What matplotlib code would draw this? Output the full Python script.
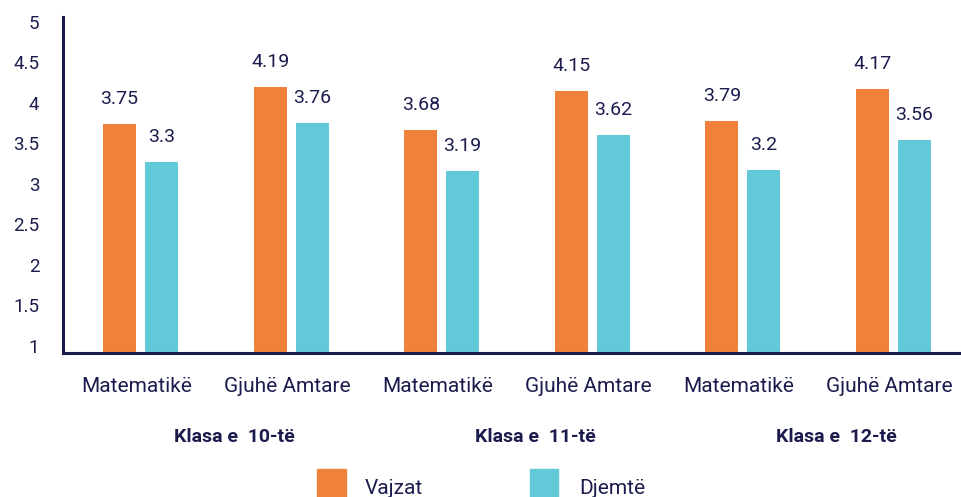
import matplotlib
matplotlib.use('Agg')
import matplotlib.pyplot as plt
import matplotlib.transforms as mtransforms
from matplotlib.patches import Rectangle
import numpy as np

plt.rcParams['font.family'] = ['Roboto', 'DejaVu Sans']

subjects = ['Matematikë', 'Gjuhë Amtare', 'Matematikë', 'Gjuhë Amtare', 'Matematikë', 'Gjuhë Amtare']
grades = ['Klasa e  10-të', 'Klasa e  11-të', 'Klasa e  12-të']
vajzat = [3.75, 4.19, 3.68, 4.15, 3.79, 4.17]
djemte = [3.3, 3.76, 3.19, 3.62, 3.2, 3.56]
yticks = [1, 1.5, 2, 2.5, 3, 3.5, 4, 4.5, 5]
series_names = ['Vajzat', 'Djemtë']

ORANGE = '#EF813A'
CYAN = '#62C9D9'
NAVY = '#1B1C4D'
W, H = 961, 497

fig = plt.figure(figsize=(W / 100, H / 100), dpi=100)
# axes box in pixels: left 63, bottom 353, top 17
ax = fig.add_axes([63 / W, (H - 353) / H, (W - 63) / W, 336 / H])

x = np.arange(len(subjects))
off = 0.139
bw = 0.219
ax.bar(x - off, vajzat, width=bw, color=ORANGE, zorder=2)
ax.bar(x + off, djemte, width=bw, color=CYAN, zorder=2)

for xi, v in zip(x - off, vajzat):
    ax.annotate(f'{v:g}', (xi, v), xytext=(0, 18), textcoords='offset points',
                ha='center', va='center', fontsize=14, color=NAVY)
for xi, v in zip(x + off, djemte):
    ax.annotate(f'{v:g}', (xi, v), xytext=(0, 18), textcoords='offset points',
                ha='center', va='center', fontsize=14, color=NAVY)

ax.set_xlim(-0.5146, 5.448)
ax.set_ylim(1, 5.036)
ax.set_yticks(yticks)
ax.set_yticklabels([f'{t:g}' for t in yticks])
ax.set_xticks([])
ax.tick_params(axis='y', length=0, pad=17, labelsize=13.5, labelcolor=NAVY)
# labels in the original sit a little tighter than the gridline values
for t, lbl in zip(yticks, ax.get_yticklabels()):
    dy = (7 - (t - 1) * 8.7 / 4) / 100
    lbl.set_transform(lbl.get_transform() +
                      mtransforms.ScaledTranslation(0, dy, fig.dpi_scale_trans))

for s in ['top', 'right']:
    ax.spines[s].set_visible(False)
for s in ['left', 'bottom']:
    ax.spines[s].set_color(NAVY)
    ax.spines[s].set_linewidth(2.2)

trans = mtransforms.blended_transform_factory(ax.transData, fig.transFigure)
for xi, s in zip(x, subjects):
    ax.text(xi - 0.027, (H - 387) / H, s, transform=trans, ha='center', va='center',
            fontsize=15, color=NAVY)
for i, g in enumerate(grades):
    ax.text(2 * i + 0.5 + 0.12, (H - 437) / H, g, transform=trans, ha='center', va='center',
            fontsize=14, fontweight='bold', color=NAVY)

# legend
for (x0, x1, tx), name, col in zip([(317, 346, 365), (530, 558, 579)], series_names, [ORANGE, CYAN]):
    fig.add_artist(Rectangle((x0 / W, 0), (x1 - x0) / W, 28 / H,
                             transform=fig.transFigure, color=col))
    fig.text(tx / W, (H - 489) / H, name, ha='left', va='center', fontsize=15, color=NAVY)

fig.savefig('out.png', dpi=100)
